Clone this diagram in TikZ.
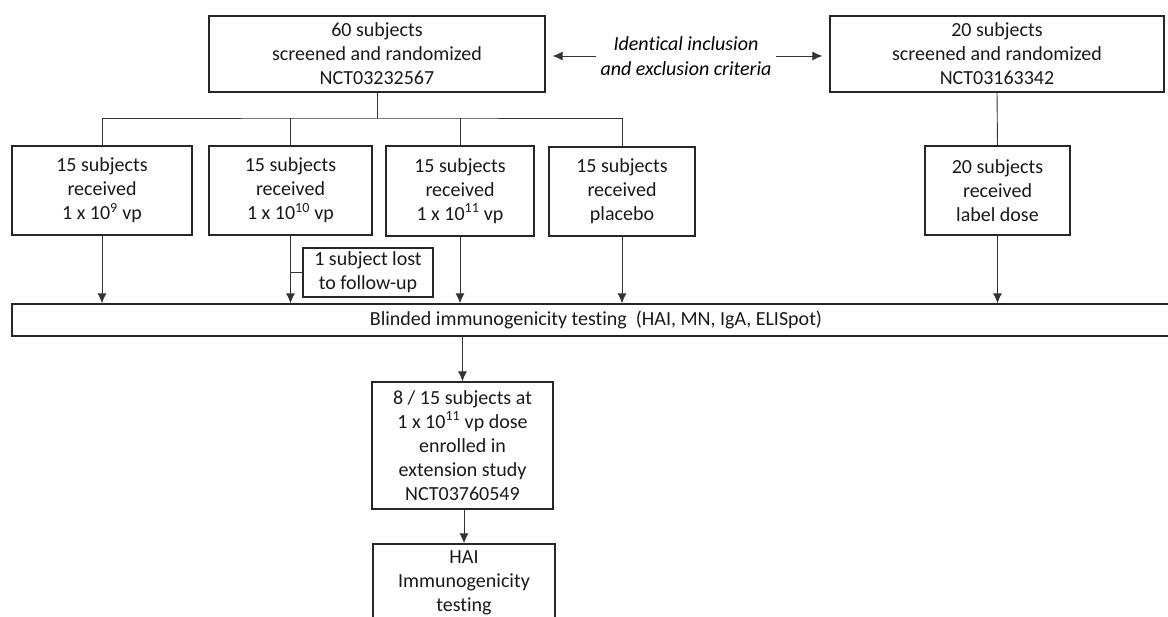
\documentclass[tikz,border=0pt]{standalone}
\usepackage{fontspec}
\setmainfont{Carlito}[Ligatures=NoCommon]
\usetikzlibrary{arrows.meta}

\begin{document}
\begin{tikzpicture}[
    x=1pt, y=-1pt,
    font=\fontsize{20}{24}\selectfont,
    box/.style={
        draw=black!85, line width=1.3pt, rectangle,
        inner sep=0pt, align=center, text=black!90
    },
    line/.style={draw=black!80, line width=0.9pt},
    arrow/.style={line, -{Latex[length=10pt,width=9pt]}}
]
\useasboundingbox (0,0) rectangle (1168,617);

% ===== Screening =====
\node[box, minimum width=336, minimum height=76] (s60) at (377,54)
    {60 subjects\\screened and randomized\\NCT03232567};
\node[box, minimum width=334, minimum height=76] (s20) at (997,54)
    {20 subjects\\screened and randomized\\NCT03163342};
\node[align=center, inner sep=4pt, font=\fontsize{20}{25}\selectfont\itshape] (crit) at (686,56)
    {Identical inclusion\\and exclusion criteria};

\draw[arrow, shorten >=7pt] (crit.west) -- (crit.west -| s60.east);
\draw[arrow, shorten >=7pt] (crit.east) -- (crit.east -| s20.west);

% ===== Dose groups =====
\node[box, minimum width=180, minimum height=89] (d9)  at (102,190.5)
    {15 subjects\\received\\1 x 10\textsuperscript{9} vp};
\node[box, minimum width=163, minimum height=89] (d10) at (290.5,190.5)
    {15 subjects\\received\\1 x 10\textsuperscript{10} vp};
\node[box, minimum width=148, minimum height=90] (d11) at (460,191)
    {15 subjects\\received\\1 x 10\textsuperscript{11} vp};
\node[box, minimum width=146, minimum height=89] (pl)  at (622,191.5)
    {15 subjects\\received\\placebo};
\node[box, minimum width=145, minimum height=89] (ld)  at (997.5,190.5)
    {20 subjects\\received\\label dose};

\coordinate (split) at (377,118);
\draw[line] (s60.south) -- (split);
\draw[line] (d9.north) |- (split) -| (pl.north);
\draw[line] (d10.north) -- (d10.north |- split);
\draw[line] (d11.north) -- (d11.north |- split);
\draw[line] (s20.south) -- (ld.north);

% ===== Testing =====
\node[box, minimum width=1168, minimum height=32] (blind) at (596,320)
    {Blinded immunogenicity testing\ \ (HAI, MN, IgA, ELISpot)};
\node[box, minimum width=130, minimum height=49] (lost) at (368,272.5)
    {1 subject lost\\to follow-up};

\draw[arrow] (d9.south)  -- (d9.south |- blind.north);
\draw[arrow] (d10.south) -- (d10.south |- blind.north);
\draw[arrow] (d11.south) -- (d11.south |- blind.north);
\draw[arrow] (pl.south)  -- (pl.south |- blind.north);
\draw[arrow] (ld.south)  -- (ld.south |- blind.north);
\draw[line] (lost.west) -- (lost.west -| d10.south);

% ===== Extension =====
\node[box, minimum width=181, minimum height=127] (ext) at (462.5,445.5)
    {8 / 15 subjects at\\1 x 10\textsuperscript{11} vp dose\\enrolled in\\extension study\\NCT03760549};
\node[box, minimum width=182, minimum height=78] (hai) at (464,583)
    {HAI\\Immunogenicity\\testing};

\draw[arrow] (ext.north |- blind.south) -- (ext.north);
\draw[arrow] (hai.north |- ext.south) -- (hai.north);

\end{tikzpicture}
\end{document}
